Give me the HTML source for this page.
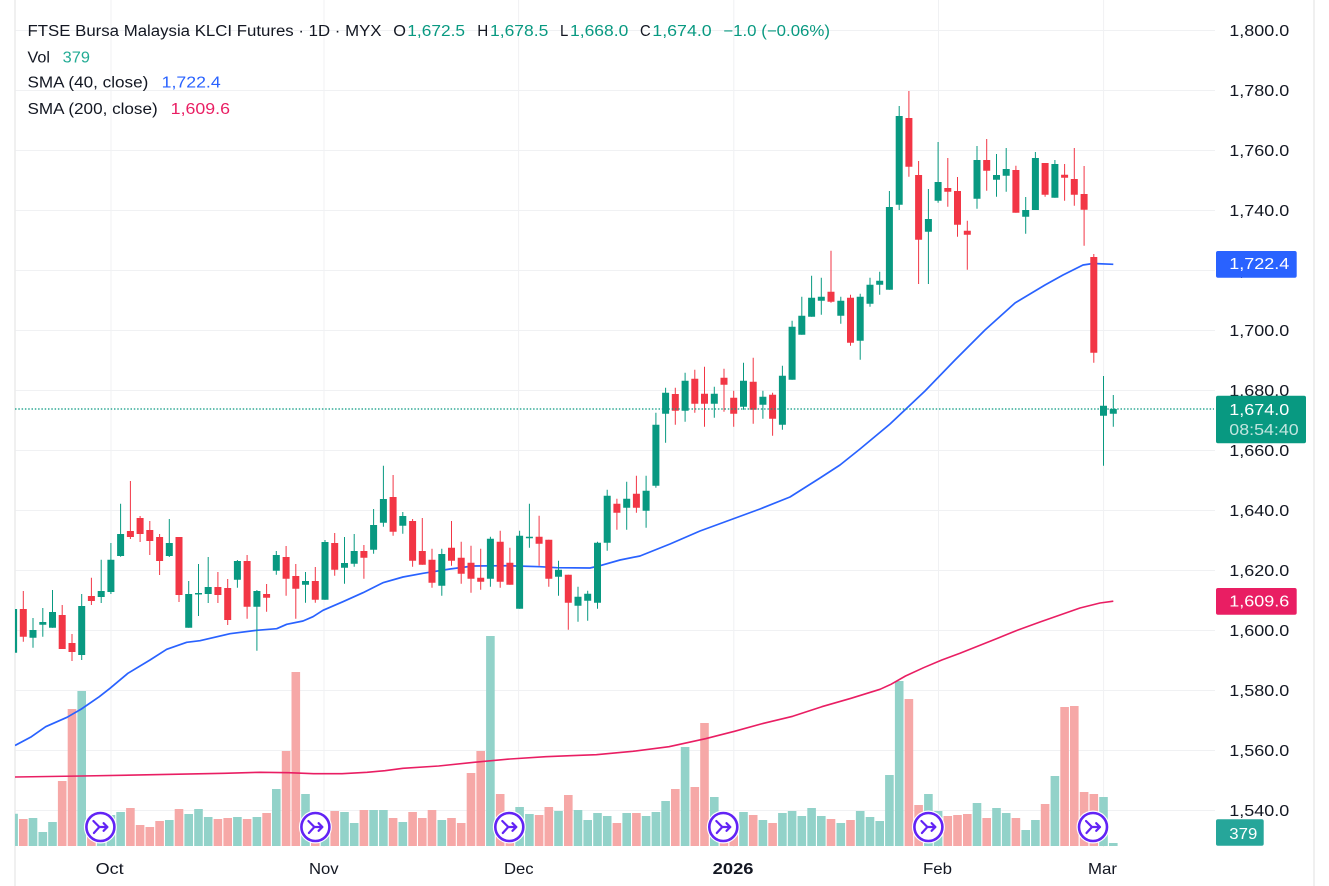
<!DOCTYPE html>
<html><head><meta charset="utf-8">
<style>
html,body{margin:0;padding:0;background:#fff;}
svg{display:block}
text{font-family:"Liberation Sans",sans-serif;}
</style></head>
<body>
<svg width="1329" height="886" viewBox="0 0 1329 886" xmlns="http://www.w3.org/2000/svg">
<defs>
<clipPath id="pl"><rect x="15" y="0" width="1200" height="848"/></clipPath>
<g id="ic">
<circle r="16.5" fill="#fff"/>
<circle r="14" fill="#fff" stroke="#6223f5" stroke-width="2.6"/>
<path d="M-7 -6L-1 0H7M3.2 -3.8L7 0L3.2 3.8M-1.5 0.5L-6.5 6" stroke="#6223f5" stroke-width="2.2" fill="none" stroke-linecap="round" stroke-linejoin="round"/>
</g>
</defs>
<rect width="1329" height="886" fill="#fff"/>
<!-- grid -->
<path d="M15 30.5H1215M15 90.5H1215M15 150.5H1215M15 210.5H1215M15 270.5H1215M15 330.5H1215M15 390.5H1215M15 450.5H1215M15 510.5H1215M15 570.5H1215M15 630.5H1215M15 690.5H1215M15 750.5H1215M15 810.5H1215" stroke="#f0f1f3" stroke-width="1"/>
<path d="M111 0V847M324 0V847M518.6 0V847M733.8 0V847M938.5 0V847M1103.6 0V847" stroke="#f0f1f3" stroke-width="1"/>
<!-- borders -->
<path d="M15 0V886" stroke="#ececec" stroke-width="1.6"/>
<path d="M1314 0V886" stroke="#f0f0f0" stroke-width="2"/>

<g clip-path="url(#pl)">
<!-- volume green -->
<path fill="#92d2c9" d="M9.3 813.7h8.6V846h-8.6zM28.7 818h8.6V846h-8.6zM38.5 832h8.6V846h-8.6zM48.2 822h8.6V846h-8.6zM77.4 691h8.6V846h-8.6zM96.9 820h8.6V846h-8.6zM106.6 815h8.6V846h-8.6zM116.3 812h8.6V846h-8.6zM165 820h8.6V846h-8.6zM184.4 814h8.6V846h-8.6zM194.2 809h8.6V846h-8.6zM203.9 817h8.6V846h-8.6zM233.1 817h8.6V846h-8.6zM252.6 817h8.6V846h-8.6zM272 789h8.6V846h-8.6zM301.2 794h8.6V846h-8.6zM320.7 820h8.6V846h-8.6zM340.2 812h8.6V846h-8.6zM349.9 823h8.6V846h-8.6zM369.3 810h8.6V846h-8.6zM379.1 810h8.6V846h-8.6zM398.5 822h8.6V846h-8.6zM437.5 820h8.6V846h-8.6zM486.1 636h8.6V846h-8.6zM515.3 807h8.6V846h-8.6zM525.1 814h8.6V846h-8.6zM554.2 811h8.6V846h-8.6zM573.7 810h8.6V846h-8.6zM583.4 820h8.6V846h-8.6zM593.2 813h8.6V846h-8.6zM602.9 816h8.6V846h-8.6zM622.4 813h8.6V846h-8.6zM641.8 816h8.6V846h-8.6zM651.6 812h8.6V846h-8.6zM661.3 801h8.6V846h-8.6zM680.8 747h8.6V846h-8.6zM710 797h8.6V846h-8.6zM739.2 812h8.6V846h-8.6zM758.6 820h8.6V846h-8.6zM778.1 813h8.6V846h-8.6zM787.8 811h8.6V846h-8.6zM797.5 816h8.6V846h-8.6zM807.3 808h8.6V846h-8.6zM817 816h8.6V846h-8.6zM836.5 823h8.6V846h-8.6zM855.9 811h8.6V846h-8.6zM865.7 817h8.6V846h-8.6zM875.4 821h8.6V846h-8.6zM885.1 775h8.6V846h-8.6zM894.9 681h8.6V846h-8.6zM924.1 794h8.6V846h-8.6zM933.8 811h8.6V846h-8.6zM972.7 803h8.6V846h-8.6zM992.2 808h8.6V846h-8.6zM1001.9 813h8.6V846h-8.6zM1021.4 830h8.6V846h-8.6zM1031.1 820h8.6V846h-8.6zM1050.6 776h8.6V846h-8.6zM1099.2 797h8.6V846h-8.6zM1109 843h8.6V846h-8.6z"/>
<!-- volume red -->
<path fill="#f6a8a7" d="M19 819h8.6V846h-8.6zM57.9 781h8.6V846h-8.6zM67.7 709h8.6V846h-8.6zM87.1 830h8.6V846h-8.6zM126.1 808h8.6V846h-8.6zM135.8 825h8.6V846h-8.6zM145.5 827h8.6V846h-8.6zM155.3 821h8.6V846h-8.6zM174.7 809h8.6V846h-8.6zM213.6 819h8.6V846h-8.6zM223.4 818h8.6V846h-8.6zM242.8 819h8.6V846h-8.6zM262.3 813h8.6V846h-8.6zM281.8 751h8.6V846h-8.6zM291.5 672h8.6V846h-8.6zM311 825h8.6V846h-8.6zM330.4 811h8.6V846h-8.6zM359.6 810h8.6V846h-8.6zM388.8 818h8.6V846h-8.6zM408.3 812h8.6V846h-8.6zM418 818h8.6V846h-8.6zM427.7 810h8.6V846h-8.6zM447.2 818h8.6V846h-8.6zM456.9 823h8.6V846h-8.6zM466.7 773h8.6V846h-8.6zM476.4 751h8.6V846h-8.6zM495.9 794h8.6V846h-8.6zM505.6 825h8.6V846h-8.6zM534.8 815h8.6V846h-8.6zM544.5 807h8.6V846h-8.6zM564 795h8.6V846h-8.6zM612.6 823h8.6V846h-8.6zM632.1 813h8.6V846h-8.6zM671 789h8.6V846h-8.6zM690.5 787h8.6V846h-8.6zM700.2 723h8.6V846h-8.6zM719.7 825h8.6V846h-8.6zM729.4 826h8.6V846h-8.6zM748.9 815h8.6V846h-8.6zM768.3 823h8.6V846h-8.6zM826.7 819h8.6V846h-8.6zM846.2 820h8.6V846h-8.6zM904.6 699h8.6V846h-8.6zM914.3 805h8.6V846h-8.6zM943.5 816h8.6V846h-8.6zM953.2 815h8.6V846h-8.6zM963 814h8.6V846h-8.6zM982.4 818h8.6V846h-8.6zM1011.6 818h8.6V846h-8.6zM1040.8 804h8.6V846h-8.6zM1060.3 707h8.6V846h-8.6zM1070 706h8.6V846h-8.6zM1079.8 792h8.6V846h-8.6zM1089.5 794h8.6V846h-8.6z"/>

<!-- SMA lines -->
<path fill="none" stroke="#e91e63" stroke-width="1.6" stroke-linejoin="round" d="M15 777L81.4 776L152.9 774.7L224 773.3L260 772.3L288.6 772.7L313.6 773.7L342 773.7L367 772.3L385 770.7L402.9 768.3L438.6 766L474 762.3L510 759L545.7 756.7L570 755.7L596.4 754.7L632.7 751.3L669 746.7L705.5 738.7L734.5 731.3L763.6 723.3L792.7 716.3L821.8 706.7L851 698.3L880 689.3L891 684.3L905.5 676L923.6 667.7L941.8 660L960 653.3L978.2 646L996.4 638.7L1018 630L1040 622L1060 615L1080 608L1100 603L1113.3 601.2"/>
<path fill="none" stroke="#2962ff" stroke-width="1.7" stroke-linejoin="round" d="M15 745.5L31.4 736.7L45.7 726.7L67 717.3L81.4 709L99.3 696.7L110 688.3L127.9 673.3L150 660L166.7 649.3L186.7 642.3L200 640.7L230 633.7L256.7 630.3L276.7 628.7L286.7 624.3L303 621L313 616.7L323 610.3L343 601.7L363 592.7L383 582.7L403 577L423 573.3L450 569L473 566L506.7 565.7L540 566.7L556.7 567.7L590 568L600 565.7L620 560L640 556L670 544L700 531L730 520L760 509L790 497L820 478L840 465L860 449L890 424L925 391L955 360L985 330L1015 303L1045 285L1063 275L1083 265L1093 263.5L1113.3 264.3"/>

<!-- candles green -->
<path fill="none" stroke="#089981" stroke-width="1" d="M13.6 606V653M33 618V647.7M42.8 608V636.7M52.5 590V627.7M81.7 594V660M101.2 559.7V603M110.9 543V594M120.6 503.7V556.7M169.3 519V557M188.7 581V627.7M198.5 564V616M208.2 557V603M237.4 560V587.7M256.9 590V650.7M276.3 551V574.7M305.5 572V602.7M325 540V599.7M344.5 537V583.7M354.2 534V566.7M373.6 509V553.7M383.4 465.7V526.7M402.8 512V533.7M441.8 548.7V595.7M490.4 536.7V586.7M519.6 530.7V608.7M529.4 503.7V547.7M558.5 560.7V595.7M578 586.7V621.7M587.7 590.7V620.7M597.5 541.7V608.7M607.2 489.7V550.7M626.7 481.7V529.7M646.1 475.7V527.7M655.9 412.7V487.7M665.6 387.7V442.7M685.1 372.7V421.7M714.3 386.7V417.7M743.5 362.7V409.7M762.9 390.7V418.7M782.4 365.7V429.7M792.1 320.7V379.7M801.8 296.7V334.7M811.6 275.7V316.7M821.3 277.7V314.7M840.8 296.7V323.7M860.2 293.7V359.7M870 277.7V306.7M879.7 271.7V294.7M889.4 191V289.7M899.2 106V210M928.4 189V284M938.1 142V202.7M977 146V208.7M996.5 154V196.7M1006.2 148V191.7M1025.7 197V233.7M1035.4 152V210M1054.9 160V197.7M1103.5 376V465.7M1113.3 395V426.7"/>
<path fill="#089981" d="M10.1 609h7v43.7h-7zM29.5 630h7v7.7h-7zM39.3 622h7v2.7h-7zM49 612h7v15.7h-7zM78.2 606h7v49h-7zM97.7 591h7v6h-7zM107.4 559.7h7v32.3h-7zM117.1 534h7v22h-7zM165.8 543h7v13h-7zM185.2 594h7v33.7h-7zM195 593h7v1.5h-7zM204.7 587h7v7h-7zM233.9 561h7v18.7h-7zM253.4 591h7v15.7h-7zM272.8 555h7v15.7h-7zM302 581h7v3.7h-7zM321.5 542h7v57.7h-7zM341 563h7v4.7h-7zM350.7 551h7v12.7h-7zM370.1 525h7v24.7h-7zM379.9 499h7v23.7h-7zM399.3 516h7v9.7h-7zM438.3 554h7v31.7h-7zM486.9 538.7h7v40h-7zM516.1 535.7h7v73h-7zM525.9 536.7h7v1.5h-7zM555 569.7h7v7h-7zM574.5 596.7h7v9h-7zM584.2 593.7h7v7h-7zM594 542.7h7v60h-7zM603.7 495.7h7v47h-7zM623.2 498.7h7v9h-7zM642.6 490.7h7v20h-7zM652.4 424.7h7v61h-7zM662.1 392.7h7v21h-7zM681.6 380.7h7v30h-7zM710.8 393.7h7v10h-7zM740 380.7h7v26h-7zM759.4 396.7h7v8h-7zM778.9 375.7h7v49h-7zM788.6 326.7h7v53h-7zM798.3 315.7h7v19h-7zM808.1 297.7h7v19h-7zM817.8 296.7h7v4h-7zM837.3 300.7h7v15h-7zM856.7 296.7h7v44h-7zM866.5 284.7h7v19h-7zM876.2 280.7h7v4h-7zM885.9 207h7v82.7h-7zM895.7 116h7v88.7h-7zM924.9 219h7v12.7h-7zM934.6 182h7v18.7h-7zM973.5 160h7v38.7h-7zM993 175h7v4.7h-7zM1002.7 169h7v6.7h-7zM1022.2 210h7v6.7h-7zM1031.9 158h7v52h-7zM1051.4 164h7v33.7h-7zM1100 405.7h7v10h-7zM1109.8 409h7v4.7h-7z"/>
<!-- candles red -->
<path fill="none" stroke="#f23645" stroke-width="1" d="M23.3 591V641.7M62.2 605V649M72 634V661M91.4 577.7V605M130.4 481V539M140.1 516V542M149.8 521V555M159.6 534V575M179 537V602M217.9 572V603M227.7 579V625M247.1 555V618.7M266.6 584V611.7M286.1 546V595.7M295.8 564V618.7M315.3 567V602.7M334.7 533V575.7M363.9 545V578.7M393.1 475V535.7M412.6 519V566.7M422.3 518V564.7M432 548.7V587.7M451.5 521V565.7M461.2 541.7V583.7M471 545.7V592.7M480.7 548.7V589.7M500.2 530.7V587.7M509.9 547.7V584.7M539.1 515.7V565.7M548.8 539.7V586.7M568.3 574.7V629.7M616.9 498.7V529.7M636.4 475.7V512.7M675.3 387.7V424.7M694.8 369.7V412.7M704.5 366.7V426.7M724 368.7V411.7M733.7 390.7V426.7M753.2 357.7V423.7M772.6 392.7V435.7M831 250.7V302.7M850.5 294.7V345.7M908.9 91V176.7M918.6 161V284M947.8 158V206.7M957.5 177V236.7M967.3 220.7V269.7M986.7 139V190.7M1015.9 165.7V212.7M1045.1 163V196.7M1064.6 164V200.7M1074.3 148V205.7M1084.1 166V245.7M1093.8 254V362.7"/>
<path fill="#f23645" d="M19.8 609h7v27.7h-7zM58.7 615h7v34h-7zM68.5 643h7v9h-7zM87.9 596h7v5h-7zM126.9 531h7v6h-7zM136.6 518h7v16h-7zM146.3 530h7v11h-7zM156.1 537h7v24h-7zM175.5 537h7v58h-7zM214.4 587h7v8h-7zM224.2 588h7v32h-7zM243.6 561h7v45.7h-7zM263.1 594h7v3.7h-7zM282.6 557h7v21.7h-7zM292.3 576h7v12.7h-7zM311.8 581h7v18.7h-7zM331.2 543h7v26.7h-7zM360.4 551h7v6.7h-7zM389.6 497h7v34.7h-7zM409.1 521h7v39.7h-7zM418.8 551h7v13.7h-7zM428.5 559.7h7v23h-7zM448 547.7h7v13h-7zM457.7 557.7h7v16h-7zM467.5 562.7h7v16h-7zM477.2 577.7h7v4h-7zM496.7 541.7h7v40h-7zM506.4 562.7h7v22h-7zM535.6 536.7h7v7h-7zM545.3 539.7h7v39h-7zM564.8 574.7h7v28h-7zM613.4 503.7h7v9h-7zM632.9 493.7h7v14h-7zM671.8 394h7v16.7h-7zM691.3 378.7h7v25h-7zM701 393.7h7v10h-7zM720.5 377.7h7v7h-7zM730.2 397.7h7v16h-7zM749.7 381.7h7v28h-7zM769.1 394.7h7v24h-7zM827.5 291.7h7v10h-7zM847 297.7h7v45h-7zM905.4 118h7v48.7h-7zM915.1 175h7v64.7h-7zM944.3 188h7v3.7h-7zM954 191h7v33.7h-7zM963.8 230.7h7v4h-7zM983.2 160h7v10.7h-7zM1012.4 170h7v42.7h-7zM1041.6 163h7v31.7h-7zM1061.1 174.7h7v3h-7zM1070.8 179h7v15.7h-7zM1080.6 194h7v15.7h-7zM1090.3 257h7v95.7h-7z"/>

<!-- last price dotted line -->
<line x1="15" y1="409" x2="1214" y2="409" stroke="#089981" stroke-width="1.2" stroke-dasharray="1.5 1.8"/>

<!-- icons -->
<use href="#ic" x="100.4" y="827"/>
<use href="#ic" x="315.4" y="827"/>
<use href="#ic" x="509.3" y="827"/>
<use href="#ic" x="723.3" y="827"/>
<use href="#ic" x="928.4" y="827"/>
<use href="#ic" x="1093" y="827"/>
</g>

<!-- price axis labels -->
<g font-size="16" fill="#131722">
<text x="1229.3" y="36" textLength="60" lengthAdjust="spacingAndGlyphs">1,800.0</text>
<text x="1229.3" y="96" textLength="60" lengthAdjust="spacingAndGlyphs">1,780.0</text>
<text x="1229.3" y="156" textLength="60" lengthAdjust="spacingAndGlyphs">1,760.0</text>
<text x="1229.3" y="216" textLength="60" lengthAdjust="spacingAndGlyphs">1,740.0</text>
<text x="1229.3" y="276" textLength="60" lengthAdjust="spacingAndGlyphs">1,720.0</text>
<text x="1229.3" y="336" textLength="60" lengthAdjust="spacingAndGlyphs">1,700.0</text>
<text x="1229.3" y="396" textLength="60" lengthAdjust="spacingAndGlyphs">1,680.0</text>
<text x="1229.3" y="456" textLength="60" lengthAdjust="spacingAndGlyphs">1,660.0</text>
<text x="1229.3" y="516" textLength="60" lengthAdjust="spacingAndGlyphs">1,640.0</text>
<text x="1229.3" y="576" textLength="60" lengthAdjust="spacingAndGlyphs">1,620.0</text>
<text x="1229.3" y="636" textLength="60" lengthAdjust="spacingAndGlyphs">1,600.0</text>
<text x="1229.3" y="696" textLength="60" lengthAdjust="spacingAndGlyphs">1,580.0</text>
<text x="1229.3" y="756" textLength="60" lengthAdjust="spacingAndGlyphs">1,560.0</text>
<text x="1229.3" y="816" textLength="60" lengthAdjust="spacingAndGlyphs">1,540.0</text>
</g>

<!-- badges -->
<rect x="1216" y="251" width="80.7" height="26.7" rx="2" fill="#2962ff"/>
<text x="1229.3" y="269" font-size="16" fill="#fff" textLength="60" lengthAdjust="spacingAndGlyphs">1,722.4</text>
<rect x="1216" y="395.7" width="90" height="47.6" rx="2" fill="#089981"/>
<text x="1229.3" y="415" font-size="16" fill="#fff" textLength="60" lengthAdjust="spacingAndGlyphs">1,674.0</text>
<text x="1229.3" y="435" font-size="16" fill="#fff" fill-opacity="0.75" textLength="69.4" lengthAdjust="spacingAndGlyphs">08:54:40</text>
<rect x="1216" y="588" width="80.7" height="26.7" rx="2" fill="#e91e63"/>
<text x="1229.3" y="606.7" font-size="16" fill="#fff" textLength="60" lengthAdjust="spacingAndGlyphs">1,609.6</text>
<rect x="1216" y="819.3" width="47.7" height="26.4" rx="2" fill="#26a69a"/>
<text x="1229.3" y="839" font-size="16" fill="#fff" textLength="28" lengthAdjust="spacingAndGlyphs">379</text>

<!-- time axis -->
<g font-size="16" fill="#131722">
<text x="95.7" y="874" textLength="28" lengthAdjust="spacingAndGlyphs">Oct</text>
<text x="309" y="874" textLength="29.6" lengthAdjust="spacingAndGlyphs">Nov</text>
<text x="504" y="874" textLength="29.6" lengthAdjust="spacingAndGlyphs">Dec</text>
<text x="712.7" y="874" font-weight="bold" textLength="40.8" lengthAdjust="spacingAndGlyphs">2026</text>
<text x="923" y="874" textLength="29" lengthAdjust="spacingAndGlyphs">Feb</text>
<text x="1088" y="874" textLength="29" lengthAdjust="spacingAndGlyphs">Mar</text>
</g>

<!-- legend -->
<g font-size="15.5">
<text x="27.5" y="36" fill="#131722" textLength="354" lengthAdjust="spacingAndGlyphs">FTSE Bursa Malaysia KLCI Futures · 1D · MYX</text>
<text x="393.3" y="36" fill="#131722" textLength="12.7" lengthAdjust="spacingAndGlyphs">O</text>
<text x="407.3" y="36" fill="#089981" textLength="57.7" lengthAdjust="spacingAndGlyphs">1,672.5</text>
<text x="477.3" y="36" fill="#131722" textLength="11" lengthAdjust="spacingAndGlyphs">H</text>
<text x="490" y="36" fill="#089981" textLength="58.3" lengthAdjust="spacingAndGlyphs">1,678.5</text>
<text x="560" y="36" fill="#131722" textLength="8.3" lengthAdjust="spacingAndGlyphs">L</text>
<text x="570" y="36" fill="#089981" textLength="58.3" lengthAdjust="spacingAndGlyphs">1,668.0</text>
<text x="640" y="36" fill="#131722" textLength="10.7" lengthAdjust="spacingAndGlyphs">C</text>
<text x="652.3" y="36" fill="#089981" textLength="59.4" lengthAdjust="spacingAndGlyphs">1,674.0</text>
<text x="723.3" y="36" fill="#089981" textLength="106.7" lengthAdjust="spacingAndGlyphs">−1.0 (−0.06%)</text>
<text x="27.5" y="62.3" fill="#131722" textLength="22.5" lengthAdjust="spacingAndGlyphs">Vol</text>
<text x="62.7" y="62.3" fill="#22ab94" textLength="27.3" lengthAdjust="spacingAndGlyphs">379</text>
<text x="27.5" y="87.3" fill="#131722" textLength="120.8" lengthAdjust="spacingAndGlyphs">SMA (40, close)</text>
<text x="161.7" y="87.3" fill="#2962ff" textLength="59" lengthAdjust="spacingAndGlyphs">1,722.4</text>
<text x="27.5" y="114" fill="#131722" textLength="130.2" lengthAdjust="spacingAndGlyphs">SMA (200, close)</text>
<text x="170.7" y="114" fill="#e91e63" textLength="59.3" lengthAdjust="spacingAndGlyphs">1,609.6</text>
</g>
</svg>
</body></html>
